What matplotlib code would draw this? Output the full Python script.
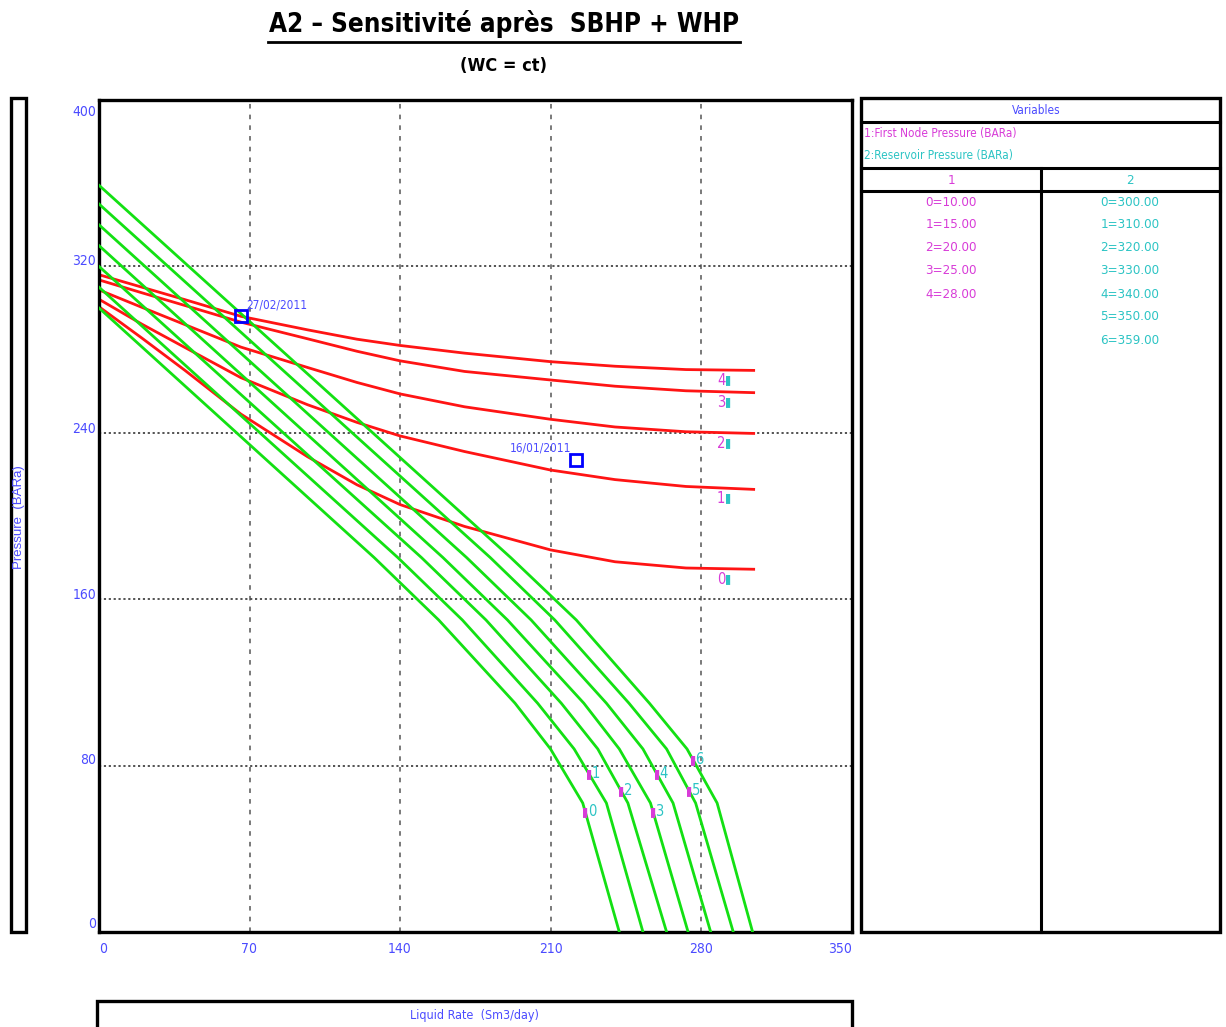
import numpy as np
import matplotlib.pyplot as plt
from matplotlib.patches import Rectangle
from matplotlib.lines import Line2D
from matplotlib.transforms import ScaledTranslation

plt.rcParams['font.family'] = ['DejaVu Sans']
plt.rcParams['font.stretch'] = 'condensed'

W, H = 1226, 1027

# ---- sensitivity variables ----
whp = [10.00, 15.00, 20.00, 25.00, 28.00]                       # 1: first node pressure
pres = [300.00, 310.00, 320.00, 330.00, 340.00, 350.00, 359.00]  # 2: reservoir pressure

# inflow curves (one per reservoir pressure)
ipr_rate = [
    [0, 128, 158, 193.5, 210, 225, 242],
    [0, 139, 169, 204, 221, 236, 253],
    [0, 150, 180, 215, 232, 246, 264],
    [0, 160, 190, 225.5, 242, 256.5, 274],
    [0, 171, 201, 236, 253, 267, 284.5],
    [0, 182, 212, 246.5, 264, 277.5, 295],
    [0, 191.5, 222, 256, 273.5, 287.5, 304],
]
ipr_press = [
    [300, 180, 150, 110, 88, 62, 0],
    [310, 180, 150, 110, 88, 62, 0],
    [320, 180, 150, 110, 88, 62, 0],
    [330, 180, 150, 110, 88, 62, 0],
    [340, 180, 150, 110, 88, 62, 0],
    [350, 180, 150, 110, 88, 62, 0],
    [359, 180, 150, 110, 88, 62, 0],
]
ipr_label_press = [58, 76, 68, 58, 76, 68, 83]

# outflow curves (one per first node pressure)
vlp_rate = [0, 20, 40, 66, 97, 120, 140, 170, 210, 240, 273, 304.5]
vlp_press = [
    [300.6, 285.5, 270.0, 249.0, 228.5, 215.0, 205.5, 195.0, 183.7, 178.0, 175.0, 174.4],
    [304.2, 292.2, 281.0, 266.5, 253.5, 245.0, 238.5, 231.0, 222.1, 217.5, 214.2, 212.8],
    [308.7, 300.3, 292.0, 281.2, 271.4, 264.2, 258.7, 252.5, 246.5, 242.8, 240.5, 239.7],
    [313.5, 307.3, 301.2, 293.2, 285.2, 279.2, 274.6, 269.5, 265.4, 262.4, 260.2, 259.3],
    [316.0, 310.0, 304.0, 296.0, 289.5, 285.0, 282.0, 278.3, 274.2, 272.0, 270.4, 270.0],
]
vlp_label_rate = 290

# well tests
test_dates = ['27/02/2011', '16/01/2011']
test_rate = [66, 222]
test_press = [296, 227]

xticks = [0, 70, 140, 210, 280, 350]
yticks = [0, 80, 160, 240, 320, 400]
ytick_shift = [10, 7, 6, 5, 7, -11]   # px, label nudge as drawn by the source software

green = '#13e013'
red = '#ff1414'
magenta = '#d83cd8'
cyan = '#2cc4c4'
tblue = '#4b4bff'


def fx(x):
    return x / W


def fy(y):
    return 1 - y / H


fig = plt.figure(figsize=(W / 100, H / 100), dpi=100)

ax = fig.add_axes([fx(99), fy(932), fx(851.5) - fx(99), fy(100) - fy(932)])
ax.set_xlim(0, 350)
ax.set_ylim(0, 400)
ax.set_xticks(xticks)
ax.set_yticks(yticks)
ax.tick_params(length=0, labelcolor=tblue, labelsize=10)
ax.tick_params(axis='y', pad=2)
ax.tick_params(axis='x', pad=7)
for s in ax.spines.values():
    s.set_linewidth(2.4)
    s.set_color('black')

xl = ax.get_xticklabels()
xl[0].set_ha('left')
xl[-1].set_ha('right')
for lbl, d in zip(ax.get_yticklabels(), ytick_shift):
    lbl.set_transform(lbl.get_transform() + ScaledTranslation(0, d / 100, fig.dpi_scale_trans))

for v in xticks[1:-1]:
    ax.axvline(v, color='#555555', lw=1.1, ls=(0, (3, 4)), zorder=1)
for v in yticks[1:-1]:
    ax.axhline(v, color='#444444', lw=1.3, ls=(0, (1.2, 1.5)), zorder=1)

# inflow curves
for k in range(len(pres)):
    ax.plot(ipr_rate[k], ipr_press[k], color=green, lw=2.0, zorder=3)
    q = np.interp(ipr_label_press[k], ipr_press[k][::-1], ipr_rate[k][::-1])
    ax.text(q, ipr_label_press[k], '\u25AE', color=magenta, fontsize=9,
            ha='center', va='center', zorder=5)
    ax.text(q + 1.2, ipr_label_press[k], str(k), color=cyan, fontsize=10.5,
            ha='left', va='center', zorder=5)

# outflow curves
for k in range(len(whp)):
    ax.plot(vlp_rate, vlp_press[k], color=red, lw=2.0, zorder=2)
    p = np.interp(vlp_label_rate, vlp_rate, vlp_press[k])
    ax.text(vlp_label_rate + 1.3, p - 1.5, str(k), color=magenta, fontsize=10.5,
            ha='right', va='top', zorder=5)
    ax.text(vlp_label_rate + 1.1, p - 1.5, '\u25AE', color=cyan, fontsize=9,
            ha='left', va='top', zorder=5)

# test points
ax.plot(test_rate, test_press, 's', ms=8, mfc='none', mec='#0000ff', mew=2, zorder=6)
ax.text(test_rate[0] + 2.5, test_press[0] + 2.5, test_dates[0], color=tblue,
        fontsize=8.5, ha='left', va='bottom')
ax.text(test_rate[1] - 2.5, test_press[1] + 2.5, test_dates[1], color=tblue,
        fontsize=8.5, ha='right', va='bottom')

# title
fig.text(fx(504), fy(24), 'A2 \u2013 Sensitivit\u00e9 apr\u00e8s  SBHP + WHP',
         ha='center', va='center', fontsize=18.6, fontweight='bold')
fig.add_artist(Line2D([fx(268), fx(740)], [fy(42), fy(42)], color='black', lw=2))
fig.text(fx(504), fy(66), '(WC = ct)', ha='center', va='center',
         fontsize=13, fontweight='bold')

# y label box
fig.add_artist(Rectangle((fx(11), fy(932)), fx(26) - fx(11), fy(98) - fy(932),
                         fill=False, lw=2.4, ec='black'))
fig.text(fx(19), fy(517), 'Pressure  (BARa)', rotation=90, ha='center',
         va='center', color=tblue, fontsize=9.5, family='Liberation Sans')

# x label box
fig.add_artist(Rectangle((fx(97), fy(1030)), fx(852) - fx(97), fy(1001) - fy(1030),
                         fill=False, lw=2.4, ec='black'))
fig.text(fx(474), fy(1016), 'Liquid Rate  (Sm3/day)', ha='center', va='center',
         color=tblue, fontsize=9)

# variables table
fig.add_artist(Rectangle((fx(861), fy(932)), fx(1220) - fx(861), fy(98) - fy(932),
                         fill=False, lw=2.4, ec='black'))
for yy in [122, 168, 191]:
    fig.add_artist(Line2D([fx(861), fx(1220)], [fy(yy), fy(yy)], color='black', lw=2.2))
fig.add_artist(Line2D([fx(1041), fx(1041)], [fy(168), fy(932)], color='black', lw=2.2))

fig.text(fx(1036), fy(111), 'Variables', ha='center', va='center', color=tblue, fontsize=8.5)
fig.text(fx(864), fy(133), '1:First Node Pressure (BARa)', ha='left', va='center',
         color=magenta, fontsize=8.5)
fig.text(fx(864), fy(156), '2:Reservoir Pressure (BARa)', ha='left', va='center',
         color=cyan, fontsize=8.5)
fig.text(fx(951), fy(180), '1', ha='center', va='center', color=magenta, fontsize=9.5)
fig.text(fx(1130), fy(180), '2', ha='center', va='center', color=cyan, fontsize=9.5)
for i, v in enumerate(whp):
    fig.text(fx(951), fy(202 + 23 * i), f'{i}={v:.2f}', ha='center', va='center',
             color=magenta, fontsize=9.5)
for i, v in enumerate(pres):
    fig.text(fx(1130), fy(202 + 23 * i), f'{i}={v:.2f}', ha='center', va='center',
             color=cyan, fontsize=9.5)

fig.savefig('out.png', dpi=100)
